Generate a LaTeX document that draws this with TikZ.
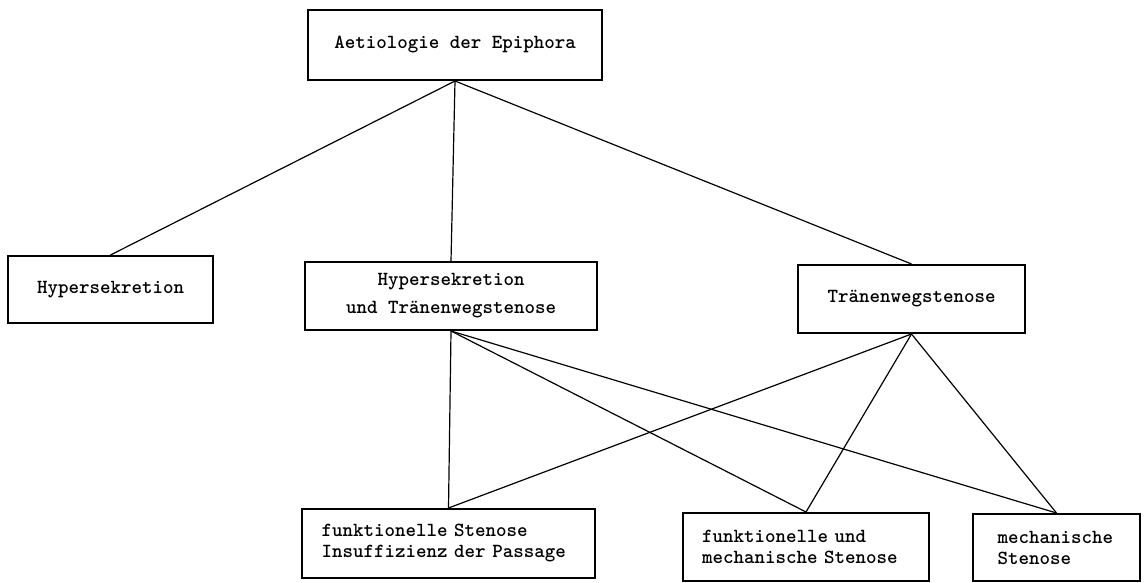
\documentclass[tikz,border=0pt]{standalone}
\begin{document}
\begin{tikzpicture}[x=1pt,y=-1pt,
    box/.style={draw, line width=2pt, rectangle, inner sep=0pt,
        font=\ttfamily\bfseries\fontsize{20}{21}\selectfont},
    link/.style={line width=1.2pt}]
    \useasboundingbox (0,0) rectangle (1145,583);
    % boxes
    \node[box, minimum width=294pt, minimum height=70pt] (aetio) at (455,45) {Aetiologie der Epiphora};
    \node[box, minimum width=205pt, minimum height=67pt] (hyper) at (110.5,289.5) {Hypersekretion};
    \node[box, minimum width=292pt, minimum height=68pt, align=center] (hypsten) at (451,296) {Hypersekretion\\[7pt]und Tr\"anenwegstenose};
    \node[box, minimum width=227pt, minimum height=68pt] (sten) at (911.5,299) {Tr\"anenwegstenose};
    \node[box, minimum width=293pt, minimum height=69pt, align=left, text width=254pt] (funkt) at (448.5,543.5) {funktionelle Stenose\\Insuffizienz der Passage};
    \node[box, minimum width=246pt, minimum height=68pt, align=left, text width=208pt] (funmech) at (806,547) {funktionelle und\\mechanische Stenose};
    \node[box, minimum width=167pt, minimum height=67pt, align=left, text width=118pt] (mech) at (1056.5,547.5) {mechanische\\Stenose};
    % lines
    \draw[link] (aetio.south) -- (hyper.north);
    \draw[link] (aetio.south) -- (hypsten.north);
    \draw[link] (aetio.south) -- (sten.north);
    \draw[link] (hypsten.south) -- (funkt.north);
    \draw[link] (hypsten.south) -- (funmech.north);
    \draw[link] (hypsten.south) -- (mech.north);
    \draw[link] (sten.south) -- (funkt.north);
    \draw[link] (sten.south) -- (funmech.north);
    \draw[link] (sten.south) -- (mech.north);
\end{tikzpicture}
\end{document}
